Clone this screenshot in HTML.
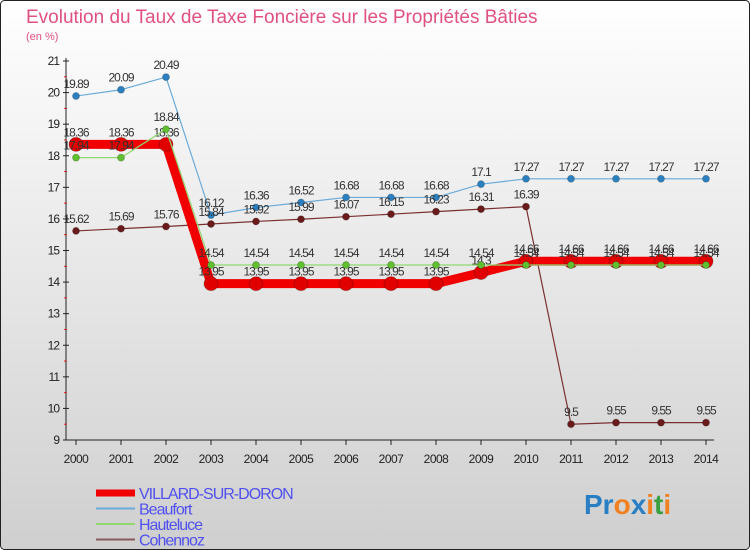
<!DOCTYPE html>
<html><head><meta charset="utf-8"><style>
body{margin:0;width:750px;height:550px;overflow:hidden;font-family:"Liberation Sans",sans-serif}
svg{display:block}
</style></head><body>
<svg id="c" width="750" height="550" xmlns="http://www.w3.org/2000/svg">
<defs><linearGradient id="bg" x1="0" y1="0" x2="0" y2="1"><stop offset="0" stop-color="#ffffff"/><stop offset="1" stop-color="#cfcfcf"/></linearGradient></defs>
<rect x="0.5" y="0.5" width="749" height="549" rx="4" fill="url(#bg)" stroke="#222"/>
<text x="26" y="23" font-size="19" fill="#e05080">Evolution du Taux de Taxe Foncière sur les Propriétés Bâties</text>
<text x="26" y="40" font-size="11" fill="#e05080">(en %)</text>
<g id="axes"></g><g id="series"></g><g id="legend"></g>
<text x="584" y="514" font-size="28" font-weight="bold"><tspan fill="#2a7fc4">Pr</tspan><tspan fill="#f08020">o</tspan><tspan fill="#2a7fc4">x</tspan><tspan fill="#f08020">i</tspan><tspan fill="#3aa040">t</tspan><tspan fill="#f08020">i</tspan></text>
</svg>
<script>
const years=[2000,2001,2002,2003,2004,2005,2006,2007,2008,2009,2010,2011,2012,2013,2014];
const yTicks=[9,10,11,12,13,14,15,16,17,18,19,20,21];
const villard=[18.36,18.36,18.36,13.95,13.95,13.95,13.95,13.95,13.95,14.3,14.66,14.66,14.66,14.66,14.66];
const beaufort=[19.89,20.09,20.49,16.12,16.36,16.52,16.68,16.68,16.68,17.1,17.27,17.27,17.27,17.27,17.27];
const hauteluce=[17.94,17.94,18.84,14.54,14.54,14.54,14.54,14.54,14.54,14.54,14.54,14.54,14.54,14.54,14.54];
const cohennoz=[15.62,15.69,15.76,15.84,15.92,15.99,16.07,16.15,16.23,16.31,16.39,9.5,9.55,9.55,9.55];
const NS="http://www.w3.org/2000/svg";
const X=i=>76+i*45, Y=v=>440-(v-9)*(379/12);
function mk(t,a,p){const e=document.createElementNS(NS,t);for(const k in a)e.setAttribute(k,a[k]);p.appendChild(e);return e;}
const ax=document.getElementById('axes');
let l=mk('line',{x1:66,y1:58,x2:66,y2:440,stroke:'#222'},ax);

l=mk('line',{x1:66,y1:440,x2:714,y2:440,stroke:'#222'},ax);

yTicks.forEach(v=>{
 mk('line',{x1:63,y1:Y(v),x2:69,y2:Y(v),stroke:'#222'},ax);
 if(v<21) mk('line',{x1:64,y1:Y(v+0.5),x2:67,y2:Y(v+0.5),stroke:'#e02020'},ax);
 const t=mk('text',{x:59,y:Y(v)+4,'font-size':12,'text-anchor':'end',fill:'#222','letter-spacing':'-1'},ax);t.textContent=v;
 
});
years.forEach((y,i)=>{
 mk('line',{x1:X(i),y1:440,x2:X(i),y2:445,stroke:'#222'},ax);
 const t=mk('text',{x:X(i),y:463,'font-size':12,'text-anchor':'middle',fill:'#222','letter-spacing':'-0.5'},ax);t.textContent=y;
 
});
const sg=document.getElementById('series');
function series(name,vals,color,dot,w,r,dy){
 const g=mk('g',{},sg);
 mk('polyline',{points:vals.map((v,i)=>X(i)+','+Y(v)).join(' '),fill:'none',stroke:color,'stroke-width':w},g);
 vals.forEach((v,i)=>{
  const c=mk('circle',{cx:X(i),cy:Y(v),r:r,fill:dot,stroke:'rgba(0,0,0,0.2)'},g);
  
  const t=mk('text',{x:X(i),y:Y(v)-dy,'font-size':12,'text-anchor':'middle',fill:'#333','letter-spacing':'-1'},g);t.textContent=v;
  
 });
}
series('beaufort',beaufort,'#6aaad8','#2a80c0',1.2,3.5,8);
series('cohennoz',cohennoz,'#7a3030','#6a1a1a',1.2,3.5,8);
series('villard',villard,'#f00000','#e00000',9,7,8);
series('hauteluce',hauteluce,'#90d870','#60c030',1.2,3.5,8);
const lg=document.getElementById('legend');
const items=[['VILLARD-SUR-DORON','#f00000',7],['Beaufort','#6aaad8',2],['Hauteluce','#90d870',2],['Cohennoz','#8a5a5a',2]];
items.forEach((it,i)=>{
 const y=493+i*15.5;
 const g=mk('g',{},lg);
 mk('line',{x1:96,y1:y,x2:135,y2:y,stroke:it[1],'stroke-width':it[2]},g);
 const t=mk('text',{x:139,y:y+6,'font-size':16,fill:'#5050f0','letter-spacing':'-1'},g);t.textContent=it[0];
});
</script>
</body></html>
